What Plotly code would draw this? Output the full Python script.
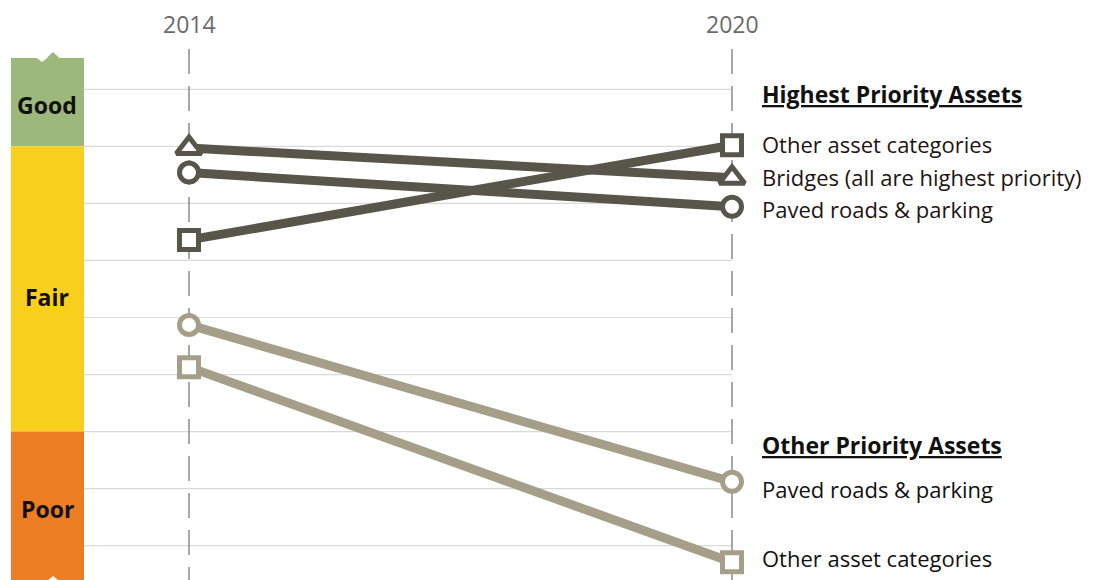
import plotly.graph_objects as go

# ---------------- data ----------------
years = [2014, 2020]

hp_other = [6.36, 8.02]      # Highest priority: Other asset categories
hp_bridges = [7.97, 7.45]    # Highest priority: Bridges
hp_paved = [7.54, 6.94]      # Highest priority: Paved roads & parking
op_paved = [4.87, 2.12]      # Other priority: Paved roads & parking
op_other = [4.13, 0.71]      # Other priority: Other asset categories

grid_levels = [1, 2, 3, 4, 5, 6, 7, 8, 9]
good_min = 8
poor_max = 3
band_labels = ["Good", "Fair", "Poor"]

hp_heading = "Highest Priority Assets"
op_heading = "Other Priority Assets"
hp_names = ["Other asset categories", "Bridges (all are highest priority)", "Paved roads & parking"]
op_names = ["Paved roads & parking", "Other asset categories"]

# ---------------- style ----------------
W, H = 1094, 580
OFF = 8  # page body margin offset
DARK = "#57564a"
LIGHT = "#a59f8a"
GREEN = "#9cb87a"
YELLOW = "#f8cf1c"
ORANGE = "#ec7d22"
FONT = "Open Sans"

# pixel <-> data helpers for the axis ranges (x: 2014 at 189px, 2020 at 732px on page)
px_per_year = (732 - 189) / 6.0
x0 = 2014 - (189 - OFF) / px_per_year
x1 = x0 + W / px_per_year
step = (545.7 - 89.3) / 8.0
y_top = 9 + (89.3 - OFF) / step
y_bot = y_top - H / step


def py(p):
    return y_top - (p - OFF) / step


def px(p):
    return x0 + (p - OFF) / px_per_year


fig = go.Figure()

series = [
    (hp_other, DARK, "square"),
    (hp_bridges, DARK, "triangle-up"),
    (hp_paved, DARK, "circle"),
    (op_paved, LIGHT, "circle"),
    (op_other, LIGHT, "square"),
]
names = [hp_names[0], hp_names[1], hp_names[2], op_names[0], op_names[1]]
for (vals, col, sym), nm in zip(series, names):
    fig.add_trace(go.Scatter(
        x=years, y=vals, mode="lines+markers", name=nm,
        line=dict(color=col, width=9),
        marker=dict(symbol=sym, size=19 if sym != "triangle-up" else 22,
                    color="white", line=dict(color=col, width=5)),
        hoverinfo="skip", showlegend=False,
    ))

shapes = []
# gridlines
for g in grid_levels:
    shapes.append(dict(type="line", xref="x", yref="y", x0=px(84), x1=2020, y0=g, y1=g,
                       line=dict(color="#d9d9d9", width=1.2), layer="below"))
# dashed year lines
for yr in years:
    shapes.append(dict(type="line", xref="x", yref="y", x0=yr, x1=yr, y0=py(49), y1=y_bot,
                       line=dict(color="#8c8c8c", width=1.5, dash="25px,12px"), layer="below"))
# colour bands
bx0, bx1 = px(11), px(84)
shapes.append(dict(type="rect", xref="x", yref="y", x0=bx0, x1=bx1, y0=good_min, y1=py(58),
                   fillcolor=GREEN, line=dict(width=0), layer="below"))
shapes.append(dict(type="rect", xref="x", yref="y", x0=bx0, x1=bx1, y0=poor_max, y1=good_min,
                   fillcolor=YELLOW, line=dict(width=0), layer="below"))
shapes.append(dict(type="rect", xref="x", yref="y", x0=bx0, x1=bx1, y0=y_bot, y1=poor_max,
                   fillcolor=ORANGE, line=dict(width=0), layer="below"))
# small notches on the band
shapes.append(dict(type="path", xref="x", yref="y",
                   path=f"M {px(46)},{py(58.5)} L {px(53)},{py(52)} L {px(60)},{py(58.5)} Z",
                   fillcolor=GREEN, line=dict(width=0), layer="below"))
shapes.append(dict(type="path", xref="x", yref="y",
                   path=f"M {px(36)},{py(57.5)} L {px(42)},{py(62)} L {px(48)},{py(57.5)} Z",
                   fillcolor="white", line=dict(width=0), layer="below"))
shapes.append(dict(type="path", xref="x", yref="y",
                   path=f"M {px(47)},{py(581)} L {px(53)},{py(576)} L {px(59)},{py(581)} Z",
                   fillcolor="white", line=dict(width=0), layer="below"))

ann = []
# year labels
for yr in years:
    ann.append(dict(x=yr, y=py(24), xref="x", yref="y", text=str(yr), showarrow=False,
                    font=dict(family=FONT, size=23, color="#6b6b6b"), xanchor="center", yanchor="middle"))
# band labels
band_y = [105, 297, 509]
for lab, yy in zip(band_labels, band_y):
    ann.append(dict(x=px(47), y=py(yy), xref="x", yref="y", text=f"<b>{lab}</b>", showarrow=False,
                    font=dict(family=FONT, size=23, color="#111"), xanchor="center", yanchor="middle"))
# headings
for txt, yy in [(hp_heading, 94), (op_heading, 445)]:
    ann.append(dict(x=2020, xshift=28, y=py(yy), xref="x", yref="y", text=f"<b>{txt}</b>",
                    showarrow=False, xanchor="left", yanchor="middle",
                    font=dict(family=FONT, size=23, color="#111", lineposition="under")))
# series labels
for txt, yy in zip(hp_names, [144, 177, 209]):
    ann.append(dict(x=2020, xshift=28, y=py(yy), xref="x", yref="y", text=txt, showarrow=False,
                    xanchor="left", yanchor="middle", font=dict(family=FONT, size=22, color="#1e1414")))
for txt, yy in zip(op_names, [489, 558]):
    ann.append(dict(x=2020, xshift=28, y=py(yy), xref="x", yref="y", text=txt, showarrow=False,
                    xanchor="left", yanchor="middle", font=dict(family=FONT, size=22, color="#111")))

fig.update_layout(
    width=W, height=H, margin=dict(l=0, r=0, t=0, b=0),
    paper_bgcolor="white", plot_bgcolor="white",
    xaxis=dict(range=[x0, x1], visible=False, fixedrange=True),
    yaxis=dict(range=[y_bot, y_top], visible=False, fixedrange=True),
    shapes=shapes, annotations=ann, showlegend=False,
)

fig.write_html("out.html")
